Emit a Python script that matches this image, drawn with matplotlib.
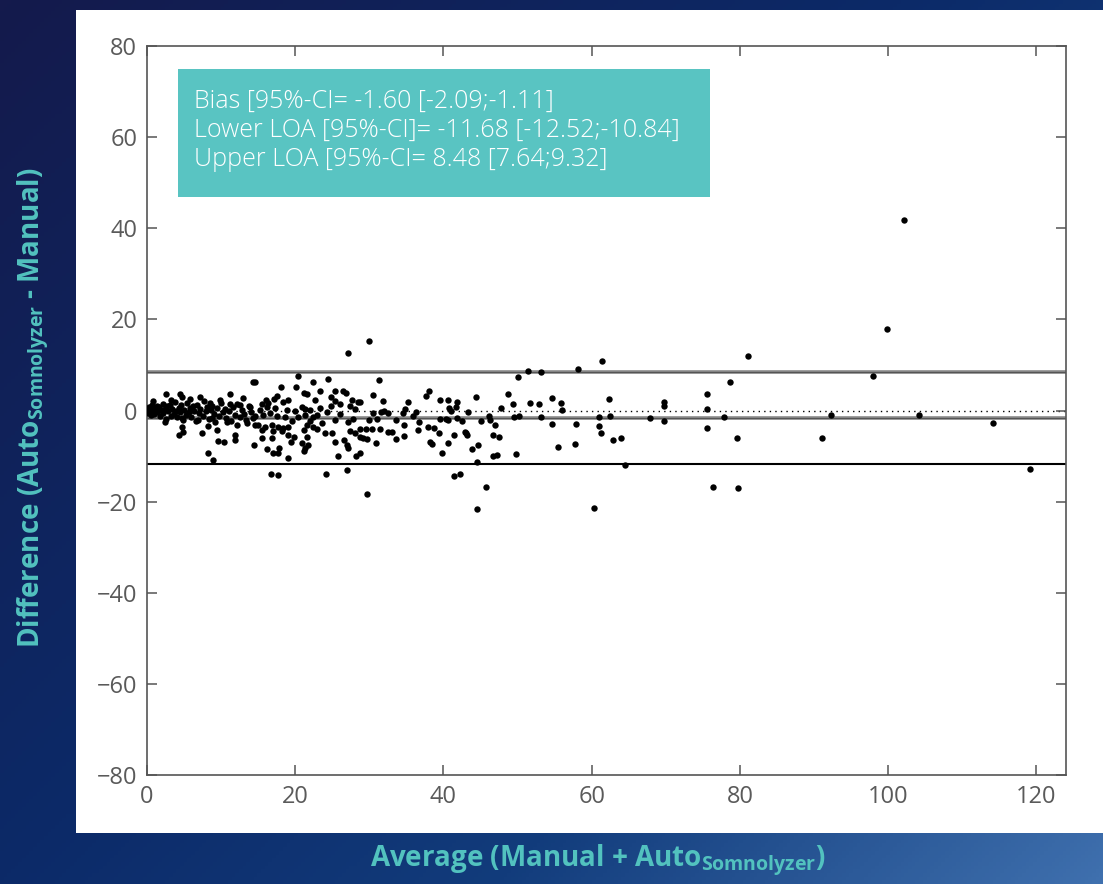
import numpy as np
import matplotlib
matplotlib.use("Agg")
import matplotlib.pyplot as plt
from matplotlib.patches import Rectangle
from matplotlib.colors import LinearSegmentedColormap

plt.rcParams['font.family'] = ['Open Sans', 'DejaVu Sans']
plt.rcParams['axes.unicode_minus'] = True
plt.rcParams['mathtext.fontset'] = 'custom'
plt.rcParams['mathtext.rm'] = 'Open Sans:bold'
plt.rcParams['mathtext.default'] = 'rm'

# ---- data: average (x) and difference (y) ----
avg = [
    # dense cluster 0-15
    0.1, 0.2, 0.3, 0.4, 0.5, 0.6, 0.7, 0.8, 0.9, 1.0, 1.1, 1.3, 1.4, 1.6, 1.7, 1.9, 2.1, 2.2, 2.4, 2.5,
    2.7, 2.9, 3.1, 3.2, 3.4, 3.6, 3.8, 3.9, 4.1, 4.3, 4.4, 4.6, 4.8, 5.0, 5.2, 5.4, 5.6, 5.8, 6.0, 6.2,
    6.4, 6.6, 6.8, 7.0, 7.2, 7.5, 7.7, 7.9, 8.1, 8.3, 8.6, 8.8, 9.0, 9.2, 9.5, 9.7, 10.0, 10.2, 10.5, 10.7,
    11.0, 11.3, 11.6, 11.9, 12.2, 12.5, 12.8, 13.1, 13.4, 13.7, 14.0, 14.3,
    2.6, 4.5, 4.7, 7.2, 11.2, 14.3, 8.5, 11.2, 12.6, 13.9, 2.4, 4.7, 8.8, 6.9, 10.8, 12.1, 13.5, 14.6,
    4.7, 8.2, 4.9, 7.4, 9.4, 4.3, 11.9, 9.6, 10.4, 11.9, 14.4, 8.2, 8.9,
    0.8, 3.3, 5.8, 9.8, 12.9,
    # 15-28
    27.1, 20.4, 22.4, 24.4, 18.1, 20.1, 23.4, 21.2, 21.6, 25.4, 26.5, 26.9, 14.6, 17.5, 17.1, 19.0, 18.4,
    22.7, 24.8, 25.4, 27.7, 28.5, 26.1, 27.4, 15.5, 16.3,
    15.3, 16.2, 17.3, 18.9, 20.0, 20.9, 21.3, 22.0, 23.4, 24.3,
    14.6, 15.7, 16.6, 17.5, 18.6, 20.4, 21.3, 22.4,
    25.4, 27.1, 27.8,
    15.0, 15.9, 16.9, 17.7, 18.4, 19.0, 21.6, 22.4, 23.6,
    15.5, 17.0, 18.2, 21.2, 22.9,
    15.5, 16.9, 19.0, 21.6, 25.0, 27.4, 28.1,
    19.4, 20.9, 21.7, 25.4, 26.6,
    16.2, 17.8, 21.3, 27.0, 27.1,
    17.0, 17.7, 21.2,
    19.0, 25.8, 28.2,
    16.7, 17.7, 24.2, 27.0,
    19.5, 23.0, 24.8, 26.0, 28.0, 22.0, 16.0, 19.8, 24.0,
    # 28-43
    30.0, 31.3, 30.5, 31.9, 28.8, 35.2, 37.7, 38.1, 39.6, 40.6, 41.8, 41.7, 40.8, 41.0,
    31.6, 32.0, 32.5, 30.5, 30.0, 31.0, 34.8, 34.6, 36.3, 35.9, 33.6, 36.7, 39.6, 40.4, 40.6, 41.8, 42.5,
    28.8, 29.6, 30.4, 31.5, 32.5, 33.1, 34.7, 36.6, 37.9, 38.7, 39.4,
    33.6, 34.7, 38.2, 38.5, 40.6, 41.4, 28.8, 29.2, 29.7, 30.9, 28.8, 39.8, 41.4, 42.3, 29.7,
    # 43-58
    50.1, 51.4, 53.2, 58.2, 44.4, 48.7, 43.3, 47.8, 49.4, 51.7, 52.9, 54.7, 55.9, 56.0,
    46.2, 46.3, 45.0, 47.0, 49.5, 50.2, 53.2, 54.7, 57.9, 43.1, 43.2, 46.7, 47.5, 43.9, 44.7,
    46.7, 47.2, 49.8, 55.5, 57.8, 44.5, 45.8, 44.5, 42.9,
    # 58-82
    61.4, 62.4, 61.0, 62.5, 61.0, 61.2, 62.9, 64.0, 64.5, 60.3, 67.9, 69.7, 69.8, 69.8,
    75.6, 75.5, 75.6, 77.8, 78.6, 79.6, 76.4, 79.8, 81.1,
    # 82-120
    102.1, 99.9, 97.9, 92.3, 104.1, 91.1, 114.1, 119.2,
]
diff = [
    0.3, -0.5, 0.8, 0.0, -1.0, 0.5, 1.2, -0.3, 0.6, -0.8, 0.2, 1.0, -0.4, 0.7, -1.2, 0.1, 1.5, -0.6, 0.4, -1.8,
    0.9, -0.2, 1.3, -1.1, 0.3, -0.7, 1.8, 0.0, -1.4, 0.6, -0.3, 1.1, -2.0, 0.2, -0.9, 1.6, -0.4, 0.5, -1.5, 0.9,
    -0.1, -2.3, 1.2, -0.6, 0.4, -1.2, 2.1, -0.2, 0.7, -1.9, 0.1, 1.0, -0.8, -2.6, 0.5, -1.3, 1.7, -0.4, 0.3, -1.7,
    0.0, -2.2, 0.8, -0.9, 1.5, -1.4, 0.2, -0.7, -2.0, 0.9, -0.3, -1.6,
    3.6, 3.6, 3.0, 3.0, 3.6, 6.3, 1.6, 1.4, 1.2, 0.8, -2.5, -1.6, -1.6, -2.1, -2.5, -3.2, -2.7, -3.2,
    -3.6, -3.4, -4.7, -4.9, -4.3, -5.4, -5.4, -6.7, -6.9, -6.5, -7.6, -9.3, -10.9,
    2.0, 2.4, 2.6, 2.2, 2.8,
    12.6, 7.6, 6.3, 6.9, 5.2, 5.2, 4.3, 3.8, 3.6, 4.3, 4.3, 3.8, 6.3, 3.2, 2.5, 2.3, 1.9,
    2.3, 3.0, 2.1, 2.3, 1.9, 1.4, 1.0, 1.4, 1.6,
    0.1, 0.8, 0.5, 0.1, -0.1, 0.8, 0.3, 0.1, 0.5, -0.3,
    -1.2, -1.0, -0.6, -1.2, -1.4, -1.4, -1.0, -1.4,
    -2.1, -2.5, -1.9,
    -3.2, -3.6, -3.2, -3.6, -3.8, -3.6, -3.2, -3.6, -2.7,
    -4.3, -4.5, -4.5, -4.3, -4.1,
    -6.0, -6.0, -5.4, -5.8, -4.9, -4.5, -4.9,
    -6.9, -7.1, -7.6, -6.9, -6.5,
    -8.5, -8.2, -8.2, -7.6, -8.2,
    -9.3, -9.3, -8.9,
    -10.4, -10.0, -10.0,
    -13.9, -14.2, -13.9, -13.1,
    -2.3, -1.0, 0.9, -0.8, 0.4, -2.4, 2.4, -5.8, -5.0,
    15.3, 6.7, 3.4, 2.1, 1.9, 1.9, 3.2, 4.3, 2.3, 2.3, 1.9, 0.8, 0.5, -0.1,
    -0.3, -0.1, -0.6, -0.6, -2.1, -1.9, 0.3, -0.6, -0.3, -1.2, -2.1, -2.5, -1.9, -1.9, -2.1, -1.6, -2.3,
    -4.1, -4.1, -4.1, -4.1, -4.7, -4.7, -3.2, -4.3, -3.6, -3.8, -4.9,
    -6.3, -5.6, -6.9, -7.4, -7.1, -5.4, -5.8, -6.0, -6.3, -7.1, -9.3, -9.3, -14.4, -13.9, -18.3,
    7.4, 8.7, 8.4, 9.1, 3.0, 3.6, -0.3, 0.5, 1.4, 1.6, 1.4, 2.7, 1.6, 0.1,
    -1.2, -2.1, -2.3, -3.2, -1.4, -1.2, -1.4, -3.0, -3.0, -5.0, -5.4, -5.4, -5.8, -8.5, -7.6,
    -10.0, -9.8, -9.6, -8.0, -7.4, -11.3, -16.8, -21.6, -4.7,
    10.9, 2.5, -1.4, -1.2, -3.4, -5.0, -6.5, -6.0, -12.0, -21.4, -1.6, 1.9, 1.0, -2.3,
    3.6, 0.3, -3.8, -1.5, 6.3, -6.0, -16.8, -17.0, 12.0,
    41.8, 17.9, 7.6, -1.0, -1.0, -6.0, -2.7, -12.8,
]

bias = -1.60
lower_loa = -11.68
upper_loa = 8.48
stats_lines = [
    "Bias [95%-CI= -1.60 [-2.09;-1.11]",
    "Lower LOA [95%-CI]= -11.68 [-12.52;-10.84]",
    "Upper LOA [95%-CI= 8.48 [7.64;9.32]",
]
x_ticks = [0, 20, 40, 60, 80, 100, 120]
y_ticks = [-80, -60, -40, -20, 0, 20, 40, 60, 80]

W, H = 1103, 884
fig = plt.figure(figsize=(W / 100, H / 100), dpi=100)

# background gradient
bg = fig.add_axes([0, 0, 1, 1], zorder=-10)
gx, gy = np.meshgrid(np.linspace(0, 1, 300), np.linspace(0, 1, 240))
t = np.clip(0.55 * gx + 0.45 * gy, 0, 1)
cmap = LinearSegmentedColormap.from_list(
    "bg", [(0.0, "#141a4c"), (0.45, "#0c2a68"), (0.7, "#123c7c"), (1.0, "#3f70ae")])
bg.imshow(cmap(t), extent=[0, 1, 0, 1], aspect='auto', origin='upper')
bg.set_axis_off()

# white panel
fig.patches.append(Rectangle((76 / W, 1 - 833 / H), (W - 76) / W, (833 - 10) / H,
                             transform=fig.transFigure, facecolor='white',
                             edgecolor='none', zorder=-5))

ax = fig.add_axes([147 / W, 1 - 775 / H, (1066 - 147) / W, (775 - 46) / H])
ax.set_facecolor('white')
ax.set_xlim(0, 124)
ax.set_ylim(-80, 80)
ax.set_xticks(x_ticks)
ax.set_yticks(y_ticks)
ax.tick_params(direction='in', length=7, width=1.1, color='#555555',
               labelcolor='#5a5a5a', labelsize=17, top=True, right=True, pad=7)
for s in ax.spines.values():
    s.set_color('#555555')
    s.set_linewidth(1.2)

ax.axhline(0, color='black', lw=1.0, ls=(0, (1, 3)), zorder=1)
ax.axhline(upper_loa, color='#888888', lw=2.6, zorder=1)
ax.axhline(upper_loa, color='#555555', lw=0.8, zorder=1)
ax.axhline(bias, color='#888888', lw=2.6, zorder=1)
ax.axhline(bias, color='#555555', lw=0.8, zorder=1)
ax.axhline(lower_loa, color='black', lw=1.5, zorder=1)

ax.plot(avg, diff, 'o', color='black', ms=4.6, mec='none', zorder=3)

# stats box
ax.add_patch(Rectangle(((178 - 147) / 919, (775 - 197) / 729), (710 - 178) / 919, (197 - 69) / 729,
                       transform=ax.transAxes, facecolor='#59c4c2', edgecolor='none', zorder=4))
ax.text((194 - 147) / 919, (775 - 89) / 729, "\n".join(stats_lines), transform=ax.transAxes,
        ha='left', va='top', color='white', fontsize=18, linespacing=1.2, zorder=5,
        fontweight='light')

label_color = '#52c2bf'
fig.text(33 / W, 1 - 408 / H, r"Difference (Auto$_{\mathrm{Somnolyzer}}$ - Manual)",
         rotation=90, ha='center', va='center', color=label_color, fontsize=20, fontweight='bold')
fig.text(598 / W, 1 - 860 / H, r"Average (Manual + Auto$_{\mathrm{Somnolyzer}}$)",
         ha='center', va='center', color=label_color, fontsize=20, fontweight='bold')

fig.savefig("out.png", dpi=100)
